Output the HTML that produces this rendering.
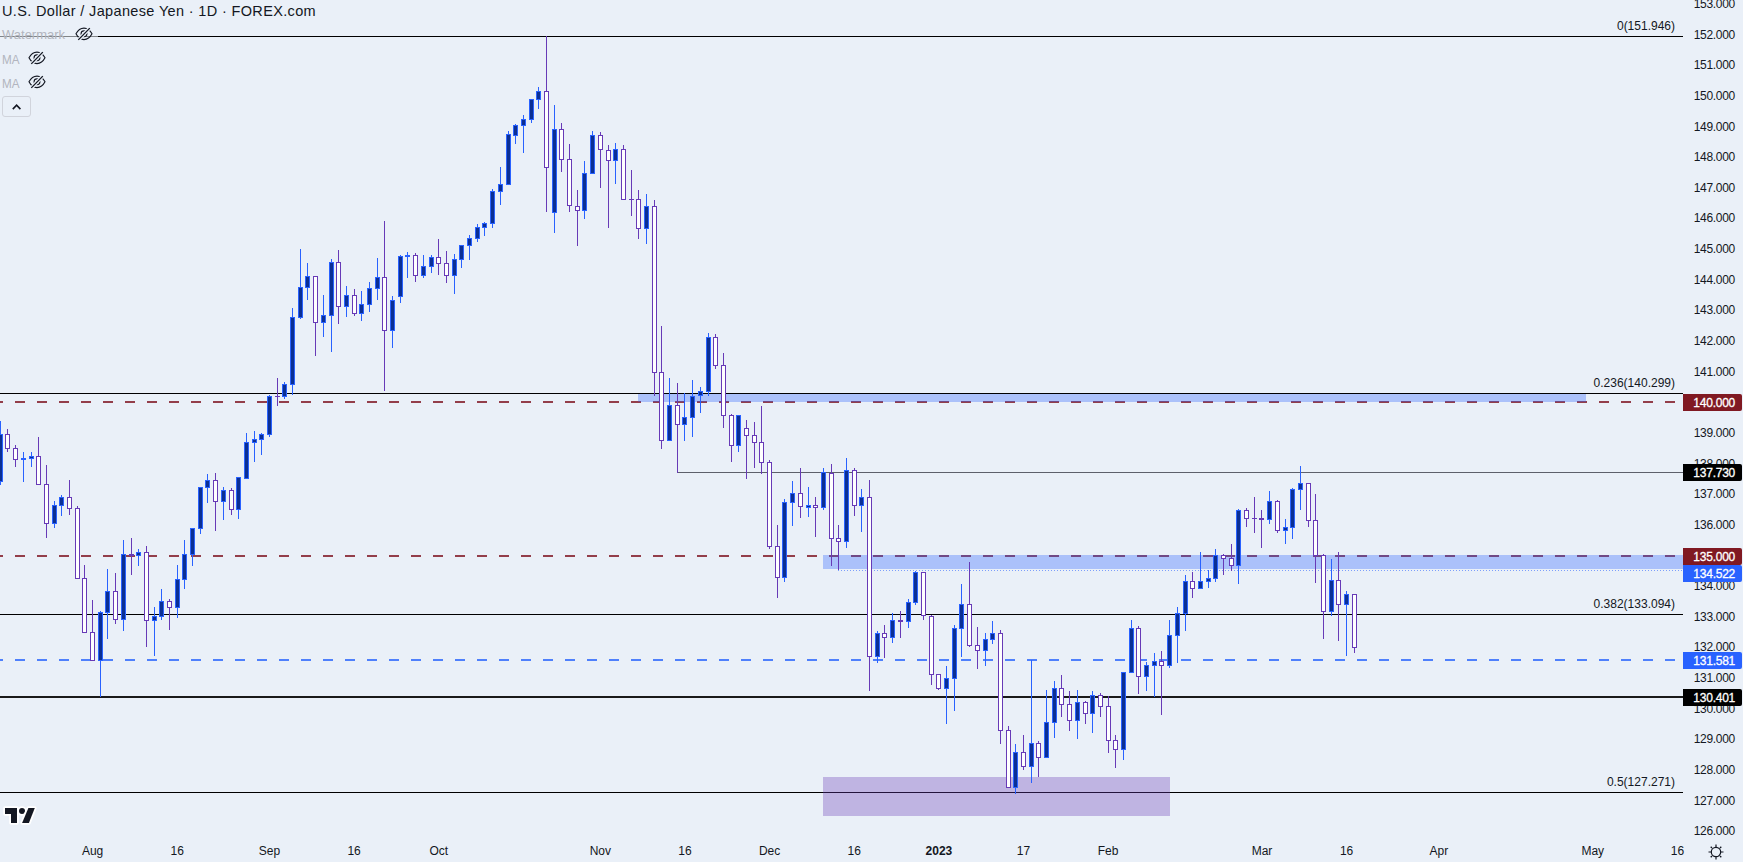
<!DOCTYPE html>
<html><head><meta charset="utf-8"><style>
html,body{margin:0;padding:0;}
body{width:1743px;height:862px;overflow:hidden;background:#eaf0f8;position:relative;font-family:"Liberation Sans",sans-serif;color:#131722;}
svg.main{position:absolute;left:0;top:0;}
.pl{position:absolute;left:1685px;width:50px;text-align:right;font-size:12px;line-height:14px;color:#131722;letter-spacing:-0.3px;}
.dl{position:absolute;top:844px;width:80px;text-align:center;font-size:12px;line-height:14px;color:#131722;}
.fl{position:absolute;right:68px;font-size:12px;line-height:14px;color:#131722;}
.tag{position:absolute;left:1683px;width:59px;height:17px;border-radius:0 2px 2px 0;color:#fff;font-size:12px;line-height:18px;text-align:right;box-sizing:border-box;padding-right:7px;letter-spacing:-0.25px;-webkit-text-stroke:0.3px #fff;}
.leg{position:absolute;left:2px;font-size:13px;line-height:15px;color:#b2b5be;transform-origin:0 0;}
</style></head><body>
<svg class="main" width="1743" height="862" viewBox="0 0 1743 862" shape-rendering="crispEdges">
<rect x="0" y="36" width="1683" height="1" fill="#000"/>
<rect x="0" y="393" width="1683" height="1" fill="#000"/>
<rect x="677" y="472" width="1006" height="1" fill="#5d606b"/>
<rect x="0" y="614" width="1683" height="1" fill="#000"/>
<rect x="0" y="792" width="1683" height="1" fill="#000"/>
<line x1="-7" y1="402" x2="1683" y2="402" stroke="#933e4a" stroke-width="2" stroke-dasharray="10 12"/>
<line x1="-7" y1="556" x2="1683" y2="556" stroke="#933e4a" stroke-width="2" stroke-dasharray="10 12"/>
<line x1="838" y1="570.5" x2="1683" y2="570.5" stroke="#7c9efb" stroke-width="1" stroke-dasharray="1 2"/>
<line x1="-7" y1="660" x2="1683" y2="660" stroke="#4f80fc" stroke-width="2" stroke-dasharray="10 12"/>
<rect x="0" y="696" width="1683" height="2" fill="#1a1a1a"/>
<rect x="638" y="394" width="948" height="8" fill="#2962ff" fill-opacity="0.33"/>
<rect x="823" y="555" width="860" height="14" fill="#2962ff" fill-opacity="0.33"/>
<rect x="823" y="777" width="347" height="39" fill="#673ab7" fill-opacity="0.33"/>
<rect x="0" y="421" width="1" height="64" fill="#2962ff"/>
<rect x="-2" y="434" width="5" height="48" fill="#2962ff"/>
<rect x="-1" y="435" width="3" height="46" fill="#0b2f94"/>
<rect x="7" y="429" width="1" height="23" fill="#673ab7"/>
<rect x="5" y="434" width="5" height="15" fill="#673ab7"/>
<rect x="6" y="435" width="3" height="13" fill="#ffffff"/>
<rect x="15" y="445" width="1" height="22" fill="#673ab7"/>
<rect x="13" y="448" width="5" height="12" fill="#673ab7"/>
<rect x="14" y="449" width="3" height="10" fill="#ffffff"/>
<rect x="23" y="452" width="1" height="30" fill="#2962ff"/>
<rect x="21" y="458" width="5" height="2" fill="#2962ff"/>
<rect x="31" y="452" width="1" height="15" fill="#2962ff"/>
<rect x="29" y="456" width="5" height="3" fill="#2962ff"/>
<rect x="30" y="457" width="3" height="1" fill="#0b2f94"/>
<rect x="38" y="437" width="1" height="48" fill="#673ab7"/>
<rect x="36" y="456" width="5" height="29" fill="#673ab7"/>
<rect x="37" y="457" width="3" height="27" fill="#ffffff"/>
<rect x="46" y="465" width="1" height="73" fill="#673ab7"/>
<rect x="44" y="484" width="5" height="40" fill="#673ab7"/>
<rect x="45" y="485" width="3" height="38" fill="#ffffff"/>
<rect x="54" y="501" width="1" height="27" fill="#2962ff"/>
<rect x="52" y="505" width="5" height="19" fill="#2962ff"/>
<rect x="53" y="506" width="3" height="17" fill="#0b2f94"/>
<rect x="61" y="495" width="1" height="21" fill="#2962ff"/>
<rect x="59" y="497" width="5" height="9" fill="#2962ff"/>
<rect x="60" y="498" width="3" height="7" fill="#0b2f94"/>
<rect x="69" y="480" width="1" height="35" fill="#673ab7"/>
<rect x="67" y="497" width="5" height="12" fill="#673ab7"/>
<rect x="68" y="498" width="3" height="10" fill="#ffffff"/>
<rect x="77" y="506" width="1" height="73" fill="#673ab7"/>
<rect x="75" y="508" width="5" height="71" fill="#673ab7"/>
<rect x="76" y="509" width="3" height="69" fill="#ffffff"/>
<rect x="84" y="565" width="1" height="68" fill="#673ab7"/>
<rect x="82" y="578" width="5" height="55" fill="#673ab7"/>
<rect x="83" y="579" width="3" height="53" fill="#ffffff"/>
<rect x="92" y="600" width="1" height="61" fill="#673ab7"/>
<rect x="90" y="632" width="5" height="29" fill="#673ab7"/>
<rect x="91" y="633" width="3" height="27" fill="#ffffff"/>
<rect x="100" y="611" width="1" height="86" fill="#2962ff"/>
<rect x="98" y="612" width="5" height="49" fill="#2962ff"/>
<rect x="99" y="613" width="3" height="47" fill="#0b2f94"/>
<rect x="107" y="569" width="1" height="70" fill="#2962ff"/>
<rect x="105" y="591" width="5" height="22" fill="#2962ff"/>
<rect x="106" y="592" width="3" height="20" fill="#0b2f94"/>
<rect x="115" y="573" width="1" height="51" fill="#673ab7"/>
<rect x="113" y="591" width="5" height="29" fill="#673ab7"/>
<rect x="114" y="592" width="3" height="27" fill="#ffffff"/>
<rect x="123" y="540" width="1" height="91" fill="#2962ff"/>
<rect x="121" y="554" width="5" height="66" fill="#2962ff"/>
<rect x="122" y="555" width="3" height="64" fill="#0b2f94"/>
<rect x="131" y="538" width="1" height="37" fill="#673ab7"/>
<rect x="129" y="554" width="5" height="2" fill="#673ab7"/>
<rect x="138" y="549" width="1" height="17" fill="#2962ff"/>
<rect x="136" y="552" width="5" height="4" fill="#2962ff"/>
<rect x="137" y="553" width="3" height="2" fill="#0b2f94"/>
<rect x="146" y="546" width="1" height="101" fill="#673ab7"/>
<rect x="144" y="552" width="5" height="69" fill="#673ab7"/>
<rect x="145" y="553" width="3" height="67" fill="#ffffff"/>
<rect x="154" y="607" width="1" height="49" fill="#2962ff"/>
<rect x="152" y="616" width="5" height="5" fill="#2962ff"/>
<rect x="153" y="617" width="3" height="3" fill="#0b2f94"/>
<rect x="161" y="589" width="1" height="31" fill="#2962ff"/>
<rect x="159" y="601" width="5" height="16" fill="#2962ff"/>
<rect x="160" y="602" width="3" height="14" fill="#0b2f94"/>
<rect x="169" y="599" width="1" height="31" fill="#673ab7"/>
<rect x="167" y="601" width="5" height="7" fill="#673ab7"/>
<rect x="168" y="602" width="3" height="5" fill="#ffffff"/>
<rect x="177" y="565" width="1" height="53" fill="#2962ff"/>
<rect x="175" y="579" width="5" height="29" fill="#2962ff"/>
<rect x="176" y="580" width="3" height="27" fill="#0b2f94"/>
<rect x="184" y="540" width="1" height="49" fill="#2962ff"/>
<rect x="182" y="554" width="5" height="26" fill="#2962ff"/>
<rect x="183" y="555" width="3" height="24" fill="#0b2f94"/>
<rect x="192" y="528" width="1" height="38" fill="#2962ff"/>
<rect x="190" y="528" width="5" height="27" fill="#2962ff"/>
<rect x="191" y="529" width="3" height="25" fill="#0b2f94"/>
<rect x="200" y="487" width="1" height="47" fill="#2962ff"/>
<rect x="198" y="487" width="5" height="42" fill="#2962ff"/>
<rect x="199" y="488" width="3" height="40" fill="#0b2f94"/>
<rect x="207" y="474" width="1" height="29" fill="#2962ff"/>
<rect x="205" y="480" width="5" height="8" fill="#2962ff"/>
<rect x="206" y="481" width="3" height="6" fill="#0b2f94"/>
<rect x="215" y="473" width="1" height="58" fill="#673ab7"/>
<rect x="213" y="480" width="5" height="22" fill="#673ab7"/>
<rect x="214" y="481" width="3" height="20" fill="#ffffff"/>
<rect x="223" y="487" width="1" height="33" fill="#2962ff"/>
<rect x="221" y="490" width="5" height="12" fill="#2962ff"/>
<rect x="222" y="491" width="3" height="10" fill="#0b2f94"/>
<rect x="231" y="488" width="1" height="27" fill="#673ab7"/>
<rect x="229" y="490" width="5" height="20" fill="#673ab7"/>
<rect x="230" y="491" width="3" height="18" fill="#ffffff"/>
<rect x="238" y="477" width="1" height="42" fill="#2962ff"/>
<rect x="236" y="477" width="5" height="33" fill="#2962ff"/>
<rect x="237" y="478" width="3" height="31" fill="#0b2f94"/>
<rect x="246" y="433" width="1" height="46" fill="#2962ff"/>
<rect x="244" y="442" width="5" height="37" fill="#2962ff"/>
<rect x="245" y="443" width="3" height="35" fill="#0b2f94"/>
<rect x="254" y="431" width="1" height="31" fill="#2962ff"/>
<rect x="252" y="439" width="5" height="4" fill="#2962ff"/>
<rect x="253" y="440" width="3" height="2" fill="#0b2f94"/>
<rect x="261" y="433" width="1" height="22" fill="#2962ff"/>
<rect x="259" y="434" width="5" height="6" fill="#2962ff"/>
<rect x="260" y="435" width="3" height="4" fill="#0b2f94"/>
<rect x="269" y="395" width="1" height="42" fill="#2962ff"/>
<rect x="267" y="396" width="5" height="39" fill="#2962ff"/>
<rect x="268" y="397" width="3" height="37" fill="#0b2f94"/>
<rect x="277" y="378" width="1" height="28" fill="#673ab7"/>
<rect x="275" y="396" width="5" height="1" fill="#673ab7"/>
<rect x="284" y="382" width="1" height="17" fill="#2962ff"/>
<rect x="282" y="384" width="5" height="13" fill="#2962ff"/>
<rect x="283" y="385" width="3" height="11" fill="#0b2f94"/>
<rect x="292" y="308" width="1" height="87" fill="#2962ff"/>
<rect x="290" y="317" width="5" height="68" fill="#2962ff"/>
<rect x="291" y="318" width="3" height="66" fill="#0b2f94"/>
<rect x="300" y="249" width="1" height="70" fill="#2962ff"/>
<rect x="298" y="287" width="5" height="31" fill="#2962ff"/>
<rect x="299" y="288" width="3" height="29" fill="#0b2f94"/>
<rect x="307" y="263" width="1" height="37" fill="#2962ff"/>
<rect x="305" y="276" width="5" height="12" fill="#2962ff"/>
<rect x="306" y="277" width="3" height="10" fill="#0b2f94"/>
<rect x="315" y="276" width="1" height="80" fill="#673ab7"/>
<rect x="313" y="276" width="5" height="47" fill="#673ab7"/>
<rect x="314" y="277" width="3" height="45" fill="#ffffff"/>
<rect x="323" y="295" width="1" height="42" fill="#2962ff"/>
<rect x="321" y="315" width="5" height="8" fill="#2962ff"/>
<rect x="322" y="316" width="3" height="6" fill="#0b2f94"/>
<rect x="331" y="259" width="1" height="93" fill="#2962ff"/>
<rect x="329" y="262" width="5" height="54" fill="#2962ff"/>
<rect x="330" y="263" width="3" height="52" fill="#0b2f94"/>
<rect x="338" y="250" width="1" height="74" fill="#673ab7"/>
<rect x="336" y="262" width="5" height="45" fill="#673ab7"/>
<rect x="337" y="263" width="3" height="43" fill="#ffffff"/>
<rect x="346" y="286" width="1" height="31" fill="#2962ff"/>
<rect x="344" y="295" width="5" height="12" fill="#2962ff"/>
<rect x="345" y="296" width="3" height="10" fill="#0b2f94"/>
<rect x="354" y="289" width="1" height="27" fill="#673ab7"/>
<rect x="352" y="295" width="5" height="19" fill="#673ab7"/>
<rect x="353" y="296" width="3" height="17" fill="#ffffff"/>
<rect x="361" y="291" width="1" height="30" fill="#2962ff"/>
<rect x="359" y="304" width="5" height="10" fill="#2962ff"/>
<rect x="360" y="305" width="3" height="8" fill="#0b2f94"/>
<rect x="369" y="282" width="1" height="30" fill="#2962ff"/>
<rect x="367" y="288" width="5" height="17" fill="#2962ff"/>
<rect x="368" y="289" width="3" height="15" fill="#0b2f94"/>
<rect x="377" y="258" width="1" height="42" fill="#2962ff"/>
<rect x="375" y="277" width="5" height="12" fill="#2962ff"/>
<rect x="376" y="278" width="3" height="10" fill="#0b2f94"/>
<rect x="384" y="221" width="1" height="170" fill="#673ab7"/>
<rect x="382" y="277" width="5" height="54" fill="#673ab7"/>
<rect x="383" y="278" width="3" height="52" fill="#ffffff"/>
<rect x="392" y="296" width="1" height="52" fill="#2962ff"/>
<rect x="390" y="300" width="5" height="31" fill="#2962ff"/>
<rect x="391" y="301" width="3" height="29" fill="#0b2f94"/>
<rect x="400" y="255" width="1" height="48" fill="#2962ff"/>
<rect x="398" y="256" width="5" height="41" fill="#2962ff"/>
<rect x="399" y="257" width="3" height="39" fill="#0b2f94"/>
<rect x="407" y="252" width="1" height="26" fill="#2962ff"/>
<rect x="405" y="255" width="5" height="2" fill="#2962ff"/>
<rect x="415" y="253" width="1" height="29" fill="#673ab7"/>
<rect x="413" y="255" width="5" height="21" fill="#673ab7"/>
<rect x="414" y="256" width="3" height="19" fill="#ffffff"/>
<rect x="423" y="255" width="1" height="23" fill="#2962ff"/>
<rect x="421" y="266" width="5" height="10" fill="#2962ff"/>
<rect x="422" y="267" width="3" height="8" fill="#0b2f94"/>
<rect x="431" y="255" width="1" height="18" fill="#2962ff"/>
<rect x="429" y="257" width="5" height="10" fill="#2962ff"/>
<rect x="430" y="258" width="3" height="8" fill="#0b2f94"/>
<rect x="438" y="239" width="1" height="36" fill="#673ab7"/>
<rect x="436" y="257" width="5" height="7" fill="#673ab7"/>
<rect x="437" y="258" width="3" height="5" fill="#ffffff"/>
<rect x="446" y="251" width="1" height="32" fill="#673ab7"/>
<rect x="444" y="263" width="5" height="13" fill="#673ab7"/>
<rect x="445" y="264" width="3" height="11" fill="#ffffff"/>
<rect x="454" y="254" width="1" height="40" fill="#2962ff"/>
<rect x="452" y="259" width="5" height="17" fill="#2962ff"/>
<rect x="453" y="260" width="3" height="15" fill="#0b2f94"/>
<rect x="461" y="245" width="1" height="23" fill="#2962ff"/>
<rect x="459" y="245" width="5" height="15" fill="#2962ff"/>
<rect x="460" y="246" width="3" height="13" fill="#0b2f94"/>
<rect x="469" y="235" width="1" height="25" fill="#2962ff"/>
<rect x="467" y="238" width="5" height="8" fill="#2962ff"/>
<rect x="468" y="239" width="3" height="6" fill="#0b2f94"/>
<rect x="477" y="224" width="1" height="18" fill="#2962ff"/>
<rect x="475" y="227" width="5" height="12" fill="#2962ff"/>
<rect x="476" y="228" width="3" height="10" fill="#0b2f94"/>
<rect x="484" y="222" width="1" height="14" fill="#2962ff"/>
<rect x="482" y="223" width="5" height="5" fill="#2962ff"/>
<rect x="483" y="224" width="3" height="3" fill="#0b2f94"/>
<rect x="492" y="189" width="1" height="39" fill="#2962ff"/>
<rect x="490" y="191" width="5" height="33" fill="#2962ff"/>
<rect x="491" y="192" width="3" height="31" fill="#0b2f94"/>
<rect x="500" y="167" width="1" height="38" fill="#2962ff"/>
<rect x="498" y="184" width="5" height="8" fill="#2962ff"/>
<rect x="499" y="185" width="3" height="6" fill="#0b2f94"/>
<rect x="508" y="131" width="1" height="54" fill="#2962ff"/>
<rect x="506" y="134" width="5" height="51" fill="#2962ff"/>
<rect x="507" y="135" width="3" height="49" fill="#0b2f94"/>
<rect x="515" y="124" width="1" height="20" fill="#2962ff"/>
<rect x="513" y="125" width="5" height="11" fill="#2962ff"/>
<rect x="514" y="126" width="3" height="9" fill="#0b2f94"/>
<rect x="523" y="115" width="1" height="38" fill="#2962ff"/>
<rect x="521" y="119" width="5" height="7" fill="#2962ff"/>
<rect x="522" y="120" width="3" height="5" fill="#0b2f94"/>
<rect x="531" y="99" width="1" height="24" fill="#2962ff"/>
<rect x="529" y="99" width="5" height="21" fill="#2962ff"/>
<rect x="530" y="100" width="3" height="19" fill="#0b2f94"/>
<rect x="538" y="87" width="1" height="22" fill="#2962ff"/>
<rect x="536" y="91" width="5" height="9" fill="#2962ff"/>
<rect x="537" y="92" width="3" height="7" fill="#0b2f94"/>
<rect x="546" y="36" width="1" height="176" fill="#673ab7"/>
<rect x="544" y="91" width="5" height="77" fill="#673ab7"/>
<rect x="545" y="92" width="3" height="75" fill="#ffffff"/>
<rect x="554" y="105" width="1" height="128" fill="#2962ff"/>
<rect x="552" y="129" width="5" height="84" fill="#2962ff"/>
<rect x="553" y="130" width="3" height="82" fill="#0b2f94"/>
<rect x="561" y="123" width="1" height="49" fill="#673ab7"/>
<rect x="559" y="129" width="5" height="31" fill="#673ab7"/>
<rect x="560" y="130" width="3" height="29" fill="#ffffff"/>
<rect x="569" y="144" width="1" height="68" fill="#673ab7"/>
<rect x="567" y="159" width="5" height="47" fill="#673ab7"/>
<rect x="568" y="160" width="3" height="45" fill="#ffffff"/>
<rect x="577" y="190" width="1" height="56" fill="#673ab7"/>
<rect x="575" y="206" width="5" height="5" fill="#673ab7"/>
<rect x="576" y="207" width="3" height="3" fill="#ffffff"/>
<rect x="584" y="161" width="1" height="58" fill="#2962ff"/>
<rect x="582" y="173" width="5" height="38" fill="#2962ff"/>
<rect x="583" y="174" width="3" height="36" fill="#0b2f94"/>
<rect x="592" y="131" width="1" height="43" fill="#2962ff"/>
<rect x="590" y="135" width="5" height="39" fill="#2962ff"/>
<rect x="591" y="136" width="3" height="37" fill="#0b2f94"/>
<rect x="600" y="132" width="1" height="56" fill="#673ab7"/>
<rect x="598" y="135" width="5" height="15" fill="#673ab7"/>
<rect x="599" y="136" width="3" height="13" fill="#ffffff"/>
<rect x="608" y="145" width="1" height="83" fill="#673ab7"/>
<rect x="606" y="150" width="5" height="11" fill="#673ab7"/>
<rect x="607" y="151" width="3" height="9" fill="#ffffff"/>
<rect x="615" y="143" width="1" height="41" fill="#2962ff"/>
<rect x="613" y="149" width="5" height="12" fill="#2962ff"/>
<rect x="614" y="150" width="3" height="10" fill="#0b2f94"/>
<rect x="623" y="145" width="1" height="55" fill="#673ab7"/>
<rect x="621" y="149" width="5" height="51" fill="#673ab7"/>
<rect x="622" y="150" width="3" height="49" fill="#ffffff"/>
<rect x="631" y="170" width="1" height="46" fill="#673ab7"/>
<rect x="629" y="199" width="5" height="1" fill="#673ab7"/>
<rect x="638" y="190" width="1" height="49" fill="#673ab7"/>
<rect x="636" y="199" width="5" height="30" fill="#673ab7"/>
<rect x="637" y="200" width="3" height="28" fill="#ffffff"/>
<rect x="646" y="194" width="1" height="50" fill="#2962ff"/>
<rect x="644" y="206" width="5" height="23" fill="#2962ff"/>
<rect x="645" y="207" width="3" height="21" fill="#0b2f94"/>
<rect x="654" y="200" width="1" height="196" fill="#673ab7"/>
<rect x="652" y="206" width="5" height="167" fill="#673ab7"/>
<rect x="653" y="207" width="3" height="165" fill="#ffffff"/>
<rect x="661" y="326" width="1" height="123" fill="#673ab7"/>
<rect x="659" y="372" width="5" height="69" fill="#673ab7"/>
<rect x="660" y="373" width="3" height="67" fill="#ffffff"/>
<rect x="669" y="378" width="1" height="63" fill="#2962ff"/>
<rect x="667" y="405" width="5" height="36" fill="#2962ff"/>
<rect x="668" y="406" width="3" height="34" fill="#0b2f94"/>
<rect x="677" y="383" width="1" height="90" fill="#673ab7"/>
<rect x="675" y="405" width="5" height="20" fill="#673ab7"/>
<rect x="676" y="406" width="3" height="18" fill="#ffffff"/>
<rect x="684" y="393" width="1" height="48" fill="#2962ff"/>
<rect x="682" y="417" width="5" height="8" fill="#2962ff"/>
<rect x="683" y="418" width="3" height="6" fill="#0b2f94"/>
<rect x="692" y="380" width="1" height="57" fill="#2962ff"/>
<rect x="690" y="396" width="5" height="22" fill="#2962ff"/>
<rect x="691" y="397" width="3" height="20" fill="#0b2f94"/>
<rect x="700" y="387" width="1" height="26" fill="#2962ff"/>
<rect x="698" y="391" width="5" height="5" fill="#2962ff"/>
<rect x="699" y="392" width="3" height="3" fill="#0b2f94"/>
<rect x="708" y="333" width="1" height="63" fill="#2962ff"/>
<rect x="706" y="337" width="5" height="55" fill="#2962ff"/>
<rect x="707" y="338" width="3" height="53" fill="#0b2f94"/>
<rect x="715" y="334" width="1" height="35" fill="#673ab7"/>
<rect x="713" y="337" width="5" height="29" fill="#673ab7"/>
<rect x="714" y="338" width="3" height="27" fill="#ffffff"/>
<rect x="723" y="353" width="1" height="75" fill="#673ab7"/>
<rect x="721" y="365" width="5" height="51" fill="#673ab7"/>
<rect x="722" y="366" width="3" height="49" fill="#ffffff"/>
<rect x="731" y="414" width="1" height="48" fill="#673ab7"/>
<rect x="729" y="415" width="5" height="31" fill="#673ab7"/>
<rect x="730" y="416" width="3" height="29" fill="#ffffff"/>
<rect x="738" y="415" width="1" height="37" fill="#2962ff"/>
<rect x="736" y="415" width="5" height="31" fill="#2962ff"/>
<rect x="737" y="416" width="3" height="29" fill="#0b2f94"/>
<rect x="746" y="420" width="1" height="59" fill="#673ab7"/>
<rect x="744" y="428" width="5" height="8" fill="#673ab7"/>
<rect x="745" y="429" width="3" height="6" fill="#ffffff"/>
<rect x="754" y="422" width="1" height="46" fill="#673ab7"/>
<rect x="752" y="435" width="5" height="8" fill="#673ab7"/>
<rect x="753" y="436" width="3" height="6" fill="#ffffff"/>
<rect x="761" y="406" width="1" height="68" fill="#673ab7"/>
<rect x="759" y="442" width="5" height="21" fill="#673ab7"/>
<rect x="760" y="443" width="3" height="19" fill="#ffffff"/>
<rect x="769" y="460" width="1" height="89" fill="#673ab7"/>
<rect x="767" y="462" width="5" height="85" fill="#673ab7"/>
<rect x="768" y="463" width="3" height="83" fill="#ffffff"/>
<rect x="777" y="525" width="1" height="73" fill="#673ab7"/>
<rect x="775" y="546" width="5" height="32" fill="#673ab7"/>
<rect x="776" y="547" width="3" height="30" fill="#ffffff"/>
<rect x="784" y="499" width="1" height="83" fill="#2962ff"/>
<rect x="782" y="502" width="5" height="76" fill="#2962ff"/>
<rect x="783" y="503" width="3" height="74" fill="#0b2f94"/>
<rect x="792" y="481" width="1" height="45" fill="#2962ff"/>
<rect x="790" y="493" width="5" height="10" fill="#2962ff"/>
<rect x="791" y="494" width="3" height="8" fill="#0b2f94"/>
<rect x="800" y="468" width="1" height="50" fill="#673ab7"/>
<rect x="798" y="493" width="5" height="14" fill="#673ab7"/>
<rect x="799" y="494" width="3" height="12" fill="#ffffff"/>
<rect x="808" y="487" width="1" height="30" fill="#2962ff"/>
<rect x="806" y="505" width="5" height="3" fill="#2962ff"/>
<rect x="807" y="506" width="3" height="1" fill="#0b2f94"/>
<rect x="815" y="497" width="1" height="40" fill="#673ab7"/>
<rect x="813" y="505" width="5" height="3" fill="#673ab7"/>
<rect x="814" y="506" width="3" height="1" fill="#ffffff"/>
<rect x="823" y="468" width="1" height="42" fill="#2962ff"/>
<rect x="821" y="472" width="5" height="36" fill="#2962ff"/>
<rect x="822" y="473" width="3" height="34" fill="#0b2f94"/>
<rect x="831" y="464" width="1" height="102" fill="#673ab7"/>
<rect x="829" y="473" width="5" height="66" fill="#673ab7"/>
<rect x="830" y="474" width="3" height="64" fill="#ffffff"/>
<rect x="838" y="525" width="1" height="45" fill="#673ab7"/>
<rect x="836" y="538" width="5" height="4" fill="#673ab7"/>
<rect x="837" y="539" width="3" height="2" fill="#ffffff"/>
<rect x="846" y="458" width="1" height="90" fill="#2962ff"/>
<rect x="844" y="470" width="5" height="72" fill="#2962ff"/>
<rect x="845" y="471" width="3" height="70" fill="#0b2f94"/>
<rect x="854" y="468" width="1" height="48" fill="#673ab7"/>
<rect x="852" y="470" width="5" height="36" fill="#673ab7"/>
<rect x="853" y="471" width="3" height="34" fill="#ffffff"/>
<rect x="861" y="489" width="1" height="43" fill="#2962ff"/>
<rect x="859" y="497" width="5" height="9" fill="#2962ff"/>
<rect x="860" y="498" width="3" height="7" fill="#0b2f94"/>
<rect x="869" y="480" width="1" height="211" fill="#673ab7"/>
<rect x="867" y="497" width="5" height="160" fill="#673ab7"/>
<rect x="868" y="498" width="3" height="158" fill="#ffffff"/>
<rect x="877" y="631" width="1" height="32" fill="#2962ff"/>
<rect x="875" y="633" width="5" height="24" fill="#2962ff"/>
<rect x="876" y="634" width="3" height="22" fill="#0b2f94"/>
<rect x="884" y="625" width="1" height="33" fill="#673ab7"/>
<rect x="882" y="633" width="5" height="5" fill="#673ab7"/>
<rect x="883" y="634" width="3" height="3" fill="#ffffff"/>
<rect x="892" y="613" width="1" height="30" fill="#2962ff"/>
<rect x="890" y="620" width="5" height="18" fill="#2962ff"/>
<rect x="891" y="621" width="3" height="16" fill="#0b2f94"/>
<rect x="900" y="611" width="1" height="27" fill="#673ab7"/>
<rect x="898" y="620" width="5" height="2" fill="#673ab7"/>
<rect x="908" y="599" width="1" height="29" fill="#2962ff"/>
<rect x="906" y="602" width="5" height="20" fill="#2962ff"/>
<rect x="907" y="603" width="3" height="18" fill="#0b2f94"/>
<rect x="915" y="571" width="1" height="34" fill="#2962ff"/>
<rect x="913" y="572" width="5" height="31" fill="#2962ff"/>
<rect x="914" y="573" width="3" height="29" fill="#0b2f94"/>
<rect x="923" y="572" width="1" height="48" fill="#673ab7"/>
<rect x="921" y="572" width="5" height="44" fill="#673ab7"/>
<rect x="922" y="573" width="3" height="42" fill="#ffffff"/>
<rect x="931" y="615" width="1" height="70" fill="#673ab7"/>
<rect x="929" y="616" width="5" height="59" fill="#673ab7"/>
<rect x="930" y="617" width="3" height="57" fill="#ffffff"/>
<rect x="938" y="674" width="1" height="16" fill="#673ab7"/>
<rect x="936" y="674" width="5" height="15" fill="#673ab7"/>
<rect x="937" y="675" width="3" height="13" fill="#ffffff"/>
<rect x="946" y="666" width="1" height="58" fill="#2962ff"/>
<rect x="944" y="678" width="5" height="11" fill="#2962ff"/>
<rect x="945" y="679" width="3" height="9" fill="#0b2f94"/>
<rect x="954" y="625" width="1" height="86" fill="#2962ff"/>
<rect x="952" y="628" width="5" height="51" fill="#2962ff"/>
<rect x="953" y="629" width="3" height="49" fill="#0b2f94"/>
<rect x="961" y="584" width="1" height="73" fill="#2962ff"/>
<rect x="959" y="604" width="5" height="25" fill="#2962ff"/>
<rect x="960" y="605" width="3" height="23" fill="#0b2f94"/>
<rect x="969" y="562" width="1" height="85" fill="#673ab7"/>
<rect x="967" y="604" width="5" height="42" fill="#673ab7"/>
<rect x="968" y="605" width="3" height="40" fill="#ffffff"/>
<rect x="977" y="627" width="1" height="42" fill="#673ab7"/>
<rect x="975" y="645" width="5" height="6" fill="#673ab7"/>
<rect x="976" y="646" width="3" height="4" fill="#ffffff"/>
<rect x="985" y="633" width="1" height="33" fill="#2962ff"/>
<rect x="983" y="639" width="5" height="12" fill="#2962ff"/>
<rect x="984" y="640" width="3" height="10" fill="#0b2f94"/>
<rect x="992" y="621" width="1" height="23" fill="#2962ff"/>
<rect x="990" y="633" width="5" height="7" fill="#2962ff"/>
<rect x="991" y="634" width="3" height="5" fill="#0b2f94"/>
<rect x="1000" y="630" width="1" height="114" fill="#673ab7"/>
<rect x="998" y="633" width="5" height="98" fill="#673ab7"/>
<rect x="999" y="634" width="3" height="96" fill="#ffffff"/>
<rect x="1008" y="726" width="1" height="62" fill="#673ab7"/>
<rect x="1006" y="730" width="5" height="58" fill="#673ab7"/>
<rect x="1007" y="731" width="3" height="56" fill="#ffffff"/>
<rect x="1015" y="744" width="1" height="50" fill="#2962ff"/>
<rect x="1013" y="752" width="5" height="36" fill="#2962ff"/>
<rect x="1014" y="753" width="3" height="34" fill="#0b2f94"/>
<rect x="1023" y="735" width="1" height="35" fill="#673ab7"/>
<rect x="1021" y="752" width="5" height="15" fill="#673ab7"/>
<rect x="1022" y="753" width="3" height="13" fill="#ffffff"/>
<rect x="1031" y="660" width="1" height="123" fill="#2962ff"/>
<rect x="1029" y="743" width="5" height="24" fill="#2962ff"/>
<rect x="1030" y="744" width="3" height="22" fill="#0b2f94"/>
<rect x="1038" y="741" width="1" height="36" fill="#673ab7"/>
<rect x="1036" y="743" width="5" height="15" fill="#673ab7"/>
<rect x="1037" y="744" width="3" height="13" fill="#ffffff"/>
<rect x="1046" y="690" width="1" height="68" fill="#2962ff"/>
<rect x="1044" y="722" width="5" height="36" fill="#2962ff"/>
<rect x="1045" y="723" width="3" height="34" fill="#0b2f94"/>
<rect x="1054" y="681" width="1" height="57" fill="#2962ff"/>
<rect x="1052" y="688" width="5" height="35" fill="#2962ff"/>
<rect x="1053" y="689" width="3" height="33" fill="#0b2f94"/>
<rect x="1061" y="675" width="1" height="42" fill="#673ab7"/>
<rect x="1059" y="688" width="5" height="17" fill="#673ab7"/>
<rect x="1060" y="689" width="3" height="15" fill="#ffffff"/>
<rect x="1069" y="691" width="1" height="40" fill="#673ab7"/>
<rect x="1067" y="704" width="5" height="17" fill="#673ab7"/>
<rect x="1068" y="705" width="3" height="15" fill="#ffffff"/>
<rect x="1077" y="690" width="1" height="49" fill="#2962ff"/>
<rect x="1075" y="702" width="5" height="19" fill="#2962ff"/>
<rect x="1076" y="703" width="3" height="17" fill="#0b2f94"/>
<rect x="1085" y="701" width="1" height="23" fill="#673ab7"/>
<rect x="1083" y="702" width="5" height="12" fill="#673ab7"/>
<rect x="1084" y="703" width="3" height="10" fill="#ffffff"/>
<rect x="1092" y="691" width="1" height="42" fill="#2962ff"/>
<rect x="1090" y="695" width="5" height="19" fill="#2962ff"/>
<rect x="1091" y="696" width="3" height="17" fill="#0b2f94"/>
<rect x="1100" y="693" width="1" height="24" fill="#673ab7"/>
<rect x="1098" y="695" width="5" height="12" fill="#673ab7"/>
<rect x="1099" y="696" width="3" height="10" fill="#ffffff"/>
<rect x="1108" y="696" width="1" height="57" fill="#673ab7"/>
<rect x="1106" y="706" width="5" height="35" fill="#673ab7"/>
<rect x="1107" y="707" width="3" height="33" fill="#ffffff"/>
<rect x="1115" y="735" width="1" height="33" fill="#673ab7"/>
<rect x="1113" y="740" width="5" height="10" fill="#673ab7"/>
<rect x="1114" y="741" width="3" height="8" fill="#ffffff"/>
<rect x="1123" y="672" width="1" height="88" fill="#2962ff"/>
<rect x="1121" y="672" width="5" height="78" fill="#2962ff"/>
<rect x="1122" y="673" width="3" height="76" fill="#0b2f94"/>
<rect x="1131" y="620" width="1" height="53" fill="#2962ff"/>
<rect x="1129" y="628" width="5" height="45" fill="#2962ff"/>
<rect x="1130" y="629" width="3" height="43" fill="#0b2f94"/>
<rect x="1138" y="626" width="1" height="68" fill="#673ab7"/>
<rect x="1136" y="628" width="5" height="49" fill="#673ab7"/>
<rect x="1137" y="629" width="3" height="47" fill="#ffffff"/>
<rect x="1146" y="662" width="1" height="29" fill="#2962ff"/>
<rect x="1144" y="665" width="5" height="12" fill="#2962ff"/>
<rect x="1145" y="666" width="3" height="10" fill="#0b2f94"/>
<rect x="1154" y="653" width="1" height="44" fill="#2962ff"/>
<rect x="1152" y="661" width="5" height="5" fill="#2962ff"/>
<rect x="1153" y="662" width="3" height="3" fill="#0b2f94"/>
<rect x="1161" y="651" width="1" height="64" fill="#673ab7"/>
<rect x="1159" y="661" width="5" height="5" fill="#673ab7"/>
<rect x="1160" y="662" width="3" height="3" fill="#ffffff"/>
<rect x="1169" y="620" width="1" height="48" fill="#2962ff"/>
<rect x="1167" y="635" width="5" height="31" fill="#2962ff"/>
<rect x="1168" y="636" width="3" height="29" fill="#0b2f94"/>
<rect x="1177" y="607" width="1" height="56" fill="#2962ff"/>
<rect x="1175" y="613" width="5" height="23" fill="#2962ff"/>
<rect x="1176" y="614" width="3" height="21" fill="#0b2f94"/>
<rect x="1185" y="575" width="1" height="56" fill="#2962ff"/>
<rect x="1183" y="581" width="5" height="33" fill="#2962ff"/>
<rect x="1184" y="582" width="3" height="31" fill="#0b2f94"/>
<rect x="1192" y="572" width="1" height="26" fill="#673ab7"/>
<rect x="1190" y="581" width="5" height="8" fill="#673ab7"/>
<rect x="1191" y="582" width="3" height="6" fill="#ffffff"/>
<rect x="1200" y="552" width="1" height="37" fill="#2962ff"/>
<rect x="1198" y="581" width="5" height="8" fill="#2962ff"/>
<rect x="1199" y="582" width="3" height="6" fill="#0b2f94"/>
<rect x="1208" y="570" width="1" height="18" fill="#2962ff"/>
<rect x="1206" y="578" width="5" height="4" fill="#2962ff"/>
<rect x="1207" y="579" width="3" height="2" fill="#0b2f94"/>
<rect x="1215" y="549" width="1" height="33" fill="#2962ff"/>
<rect x="1213" y="555" width="5" height="24" fill="#2962ff"/>
<rect x="1214" y="556" width="3" height="22" fill="#0b2f94"/>
<rect x="1223" y="554" width="1" height="21" fill="#673ab7"/>
<rect x="1221" y="555" width="5" height="4" fill="#673ab7"/>
<rect x="1222" y="556" width="3" height="2" fill="#ffffff"/>
<rect x="1231" y="544" width="1" height="27" fill="#673ab7"/>
<rect x="1229" y="558" width="5" height="8" fill="#673ab7"/>
<rect x="1230" y="559" width="3" height="6" fill="#ffffff"/>
<rect x="1238" y="509" width="1" height="75" fill="#2962ff"/>
<rect x="1236" y="510" width="5" height="56" fill="#2962ff"/>
<rect x="1237" y="511" width="3" height="54" fill="#0b2f94"/>
<rect x="1246" y="508" width="1" height="19" fill="#673ab7"/>
<rect x="1244" y="510" width="5" height="9" fill="#673ab7"/>
<rect x="1245" y="511" width="3" height="7" fill="#ffffff"/>
<rect x="1254" y="497" width="1" height="36" fill="#673ab7"/>
<rect x="1252" y="518" width="5" height="1" fill="#673ab7"/>
<rect x="1261" y="510" width="1" height="38" fill="#673ab7"/>
<rect x="1259" y="518" width="5" height="2" fill="#673ab7"/>
<rect x="1269" y="491" width="1" height="33" fill="#2962ff"/>
<rect x="1267" y="501" width="5" height="19" fill="#2962ff"/>
<rect x="1268" y="502" width="3" height="17" fill="#0b2f94"/>
<rect x="1277" y="500" width="1" height="33" fill="#673ab7"/>
<rect x="1275" y="501" width="5" height="30" fill="#673ab7"/>
<rect x="1276" y="502" width="3" height="28" fill="#ffffff"/>
<rect x="1285" y="519" width="1" height="25" fill="#2962ff"/>
<rect x="1283" y="527" width="5" height="4" fill="#2962ff"/>
<rect x="1284" y="528" width="3" height="2" fill="#0b2f94"/>
<rect x="1292" y="488" width="1" height="51" fill="#2962ff"/>
<rect x="1290" y="489" width="5" height="39" fill="#2962ff"/>
<rect x="1291" y="490" width="3" height="37" fill="#0b2f94"/>
<rect x="1300" y="466" width="1" height="44" fill="#2962ff"/>
<rect x="1298" y="483" width="5" height="7" fill="#2962ff"/>
<rect x="1299" y="484" width="3" height="5" fill="#0b2f94"/>
<rect x="1308" y="483" width="1" height="44" fill="#673ab7"/>
<rect x="1306" y="483" width="5" height="38" fill="#673ab7"/>
<rect x="1307" y="484" width="3" height="36" fill="#ffffff"/>
<rect x="1315" y="494" width="1" height="89" fill="#673ab7"/>
<rect x="1313" y="520" width="5" height="36" fill="#673ab7"/>
<rect x="1314" y="521" width="3" height="34" fill="#ffffff"/>
<rect x="1323" y="554" width="1" height="85" fill="#673ab7"/>
<rect x="1321" y="555" width="5" height="57" fill="#673ab7"/>
<rect x="1322" y="556" width="3" height="55" fill="#ffffff"/>
<rect x="1331" y="559" width="1" height="57" fill="#2962ff"/>
<rect x="1329" y="580" width="5" height="32" fill="#2962ff"/>
<rect x="1330" y="581" width="3" height="30" fill="#0b2f94"/>
<rect x="1338" y="552" width="1" height="89" fill="#673ab7"/>
<rect x="1336" y="580" width="5" height="25" fill="#673ab7"/>
<rect x="1337" y="581" width="3" height="23" fill="#ffffff"/>
<rect x="1346" y="591" width="1" height="65" fill="#2962ff"/>
<rect x="1344" y="594" width="5" height="11" fill="#2962ff"/>
<rect x="1345" y="595" width="3" height="9" fill="#0b2f94"/>
<rect x="1354" y="594" width="1" height="59" fill="#673ab7"/>
<rect x="1352" y="594" width="5" height="54" fill="#673ab7"/>
<rect x="1353" y="595" width="3" height="52" fill="#ffffff"/>
</svg>
<div class="pl" style="top:824.1px">126.000</div>
<div class="pl" style="top:793.5px">127.000</div>
<div class="pl" style="top:762.9px">128.000</div>
<div class="pl" style="top:732.2px">129.000</div>
<div class="pl" style="top:701.6px">130.000</div>
<div class="pl" style="top:671.0px">131.000</div>
<div class="pl" style="top:640.3px">132.000</div>
<div class="pl" style="top:609.7px">133.000</div>
<div class="pl" style="top:579.1px">134.000</div>
<div class="pl" style="top:548.4px">135.000</div>
<div class="pl" style="top:517.8px">136.000</div>
<div class="pl" style="top:487.2px">137.000</div>
<div class="pl" style="top:456.5px">138.000</div>
<div class="pl" style="top:425.9px">139.000</div>
<div class="pl" style="top:395.3px">140.000</div>
<div class="pl" style="top:364.6px">141.000</div>
<div class="pl" style="top:334.0px">142.000</div>
<div class="pl" style="top:303.4px">143.000</div>
<div class="pl" style="top:272.7px">144.000</div>
<div class="pl" style="top:242.1px">145.000</div>
<div class="pl" style="top:211.4px">146.000</div>
<div class="pl" style="top:180.8px">147.000</div>
<div class="pl" style="top:150.2px">148.000</div>
<div class="pl" style="top:119.5px">149.000</div>
<div class="pl" style="top:88.9px">150.000</div>
<div class="pl" style="top:58.3px">151.000</div>
<div class="pl" style="top:27.6px">152.000</div>
<div class="pl" style="top:-3.0px">153.000</div>
<div class="tag" style="top:394px;background:#801922">140.000</div>
<div class="tag" style="top:464px;background:#000">137.730</div>
<div class="tag" style="top:548px;background:#801922">135.000</div>
<div class="tag" style="top:565px;background:#2962ff">134.522</div>
<div class="tag" style="top:652px;background:#2962ff">131.581</div>
<div class="tag" style="top:689px;background:#000">130.401</div>
<div class="fl" style="top:19px">0(151.946)</div>
<div class="fl" style="top:376px">0.236(140.299)</div>
<div class="fl" style="top:597px">0.382(133.094)</div>
<div class="fl" style="top:775px">0.5(127.271)</div>
<div class="dl" style="left:52.6px"><span>Aug</span></div>
<div class="dl" style="left:137.2px"><span>16</span></div>
<div class="dl" style="left:229.5px"><span>Sep</span></div>
<div class="dl" style="left:314.1px"><span>16</span></div>
<div class="dl" style="left:398.8px"><span>Oct</span></div>
<div class="dl" style="left:560.3px"><span>Nov</span></div>
<div class="dl" style="left:645.0px"><span>16</span></div>
<div class="dl" style="left:729.6px"><span>Dec</span></div>
<div class="dl" style="left:814.2px"><span>16</span></div>
<div class="dl" style="left:898.9px"><span style="font-weight:bold">2023</span></div>
<div class="dl" style="left:983.5px"><span>17</span></div>
<div class="dl" style="left:1068.1px"><span>Feb</span></div>
<div class="dl" style="left:1222.0px"><span>Mar</span></div>
<div class="dl" style="left:1306.6px"><span>16</span></div>
<div class="dl" style="left:1398.9px"><span>Apr</span></div>
<div class="dl" style="left:1552.8px"><span>May</span></div>
<div class="dl" style="left:1637.4px"><span>16</span></div>
<div style="position:absolute;left:2px;top:2px;font-size:14.5px;letter-spacing:0.35px;line-height:18px;color:#131722;white-space:nowrap">U.S. Dollar / Japanese Yen · 1D · FOREX.com</div>
<div style="position:absolute;left:0;top:27px;width:98px;height:14px;background:rgba(234,240,248,0.55)"></div>
<div class="leg" style="top:26.7px">Watermark</div>
<div style="position:absolute;left:73px;top:24px"><svg width="22" height="18" viewBox="0 0 22 18" style="display:block"><path d="M3 9.85 C5.2 5.6 8 4.1 11 4.1 C14 4.1 16.8 5.6 19 9.85 C16.8 14.1 14 15.6 11 15.6 C8 15.6 5.2 14.1 3 9.85Z" fill="none" stroke="#131722" stroke-width="1.15"/><circle cx="11" cy="9.8" r="2.9" fill="none" stroke="#131722" stroke-width="1.15"/><path d="M17.2 3.6 L4.9 16.4" stroke="#eaf0f8" stroke-width="3.6"/><path d="M16.8 4.1 L5.3 15.9" stroke="#131722" stroke-width="1.35"/></svg></div>
<div class="leg" style="top:52.2px;transform:scaleX(0.9)">MA</div>
<div style="position:absolute;left:26px;top:48px"><svg width="22" height="18" viewBox="0 0 22 18" style="display:block"><path d="M3 9.85 C5.2 5.6 8 4.1 11 4.1 C14 4.1 16.8 5.6 19 9.85 C16.8 14.1 14 15.6 11 15.6 C8 15.6 5.2 14.1 3 9.85Z" fill="none" stroke="#131722" stroke-width="1.15"/><circle cx="11" cy="9.8" r="2.9" fill="none" stroke="#131722" stroke-width="1.15"/><path d="M17.2 3.6 L4.9 16.4" stroke="#eaf0f8" stroke-width="3.6"/><path d="M16.8 4.1 L5.3 15.9" stroke="#131722" stroke-width="1.35"/></svg></div>
<div class="leg" style="top:76.2px;transform:scaleX(0.9)">MA</div>
<div style="position:absolute;left:26px;top:72px"><svg width="22" height="18" viewBox="0 0 22 18" style="display:block"><path d="M3 9.85 C5.2 5.6 8 4.1 11 4.1 C14 4.1 16.8 5.6 19 9.85 C16.8 14.1 14 15.6 11 15.6 C8 15.6 5.2 14.1 3 9.85Z" fill="none" stroke="#131722" stroke-width="1.15"/><circle cx="11" cy="9.8" r="2.9" fill="none" stroke="#131722" stroke-width="1.15"/><path d="M17.2 3.6 L4.9 16.4" stroke="#eaf0f8" stroke-width="3.6"/><path d="M16.8 4.1 L5.3 15.9" stroke="#131722" stroke-width="1.35"/></svg></div>
<div style="position:absolute;left:2px;top:96px;width:29px;height:21px;border:1px solid #d1d4dc;border-radius:3px;box-sizing:border-box"><svg width="27" height="19" viewBox="0 0 27 19" style="display:block"><path d="M9.8 12.1 L13.6 8.1 L17.4 12.1" fill="none" stroke="#131722" stroke-width="1.6"/></svg></div>
<svg style="position:absolute;left:0;top:800px" width="45" height="30" viewBox="0 0 45 30"><g fill="#131722" stroke="#fff" stroke-width="3.6" stroke-linejoin="round" paint-order="stroke"><path d="M5 8 H17 V23 H11 V14 H5 Z"/><circle cx="22" cy="11" r="3"/><path d="M28.4 8 H34.8 L28.9 23 H22.1 Z"/></g></svg>
<svg style="position:absolute;left:1707.5px;top:843.5px" width="16" height="16" viewBox="0 0 16 16"><circle cx="8" cy="8" r="4.7" fill="none" stroke="#131722" stroke-width="1.2"/><path d="M8 0.5v3M8 12.5v3M0.5 8h3M12.5 8h3" stroke="#131722" stroke-width="1.2"/><path d="M2.7 2.7l1.3 1.3M13.3 2.7l-1.3 1.3M2.7 13.3l1.3-1.3M13.3 13.3l-1.3-1.3" stroke="#131722" stroke-width="1.3"/></svg>
</body></html>
